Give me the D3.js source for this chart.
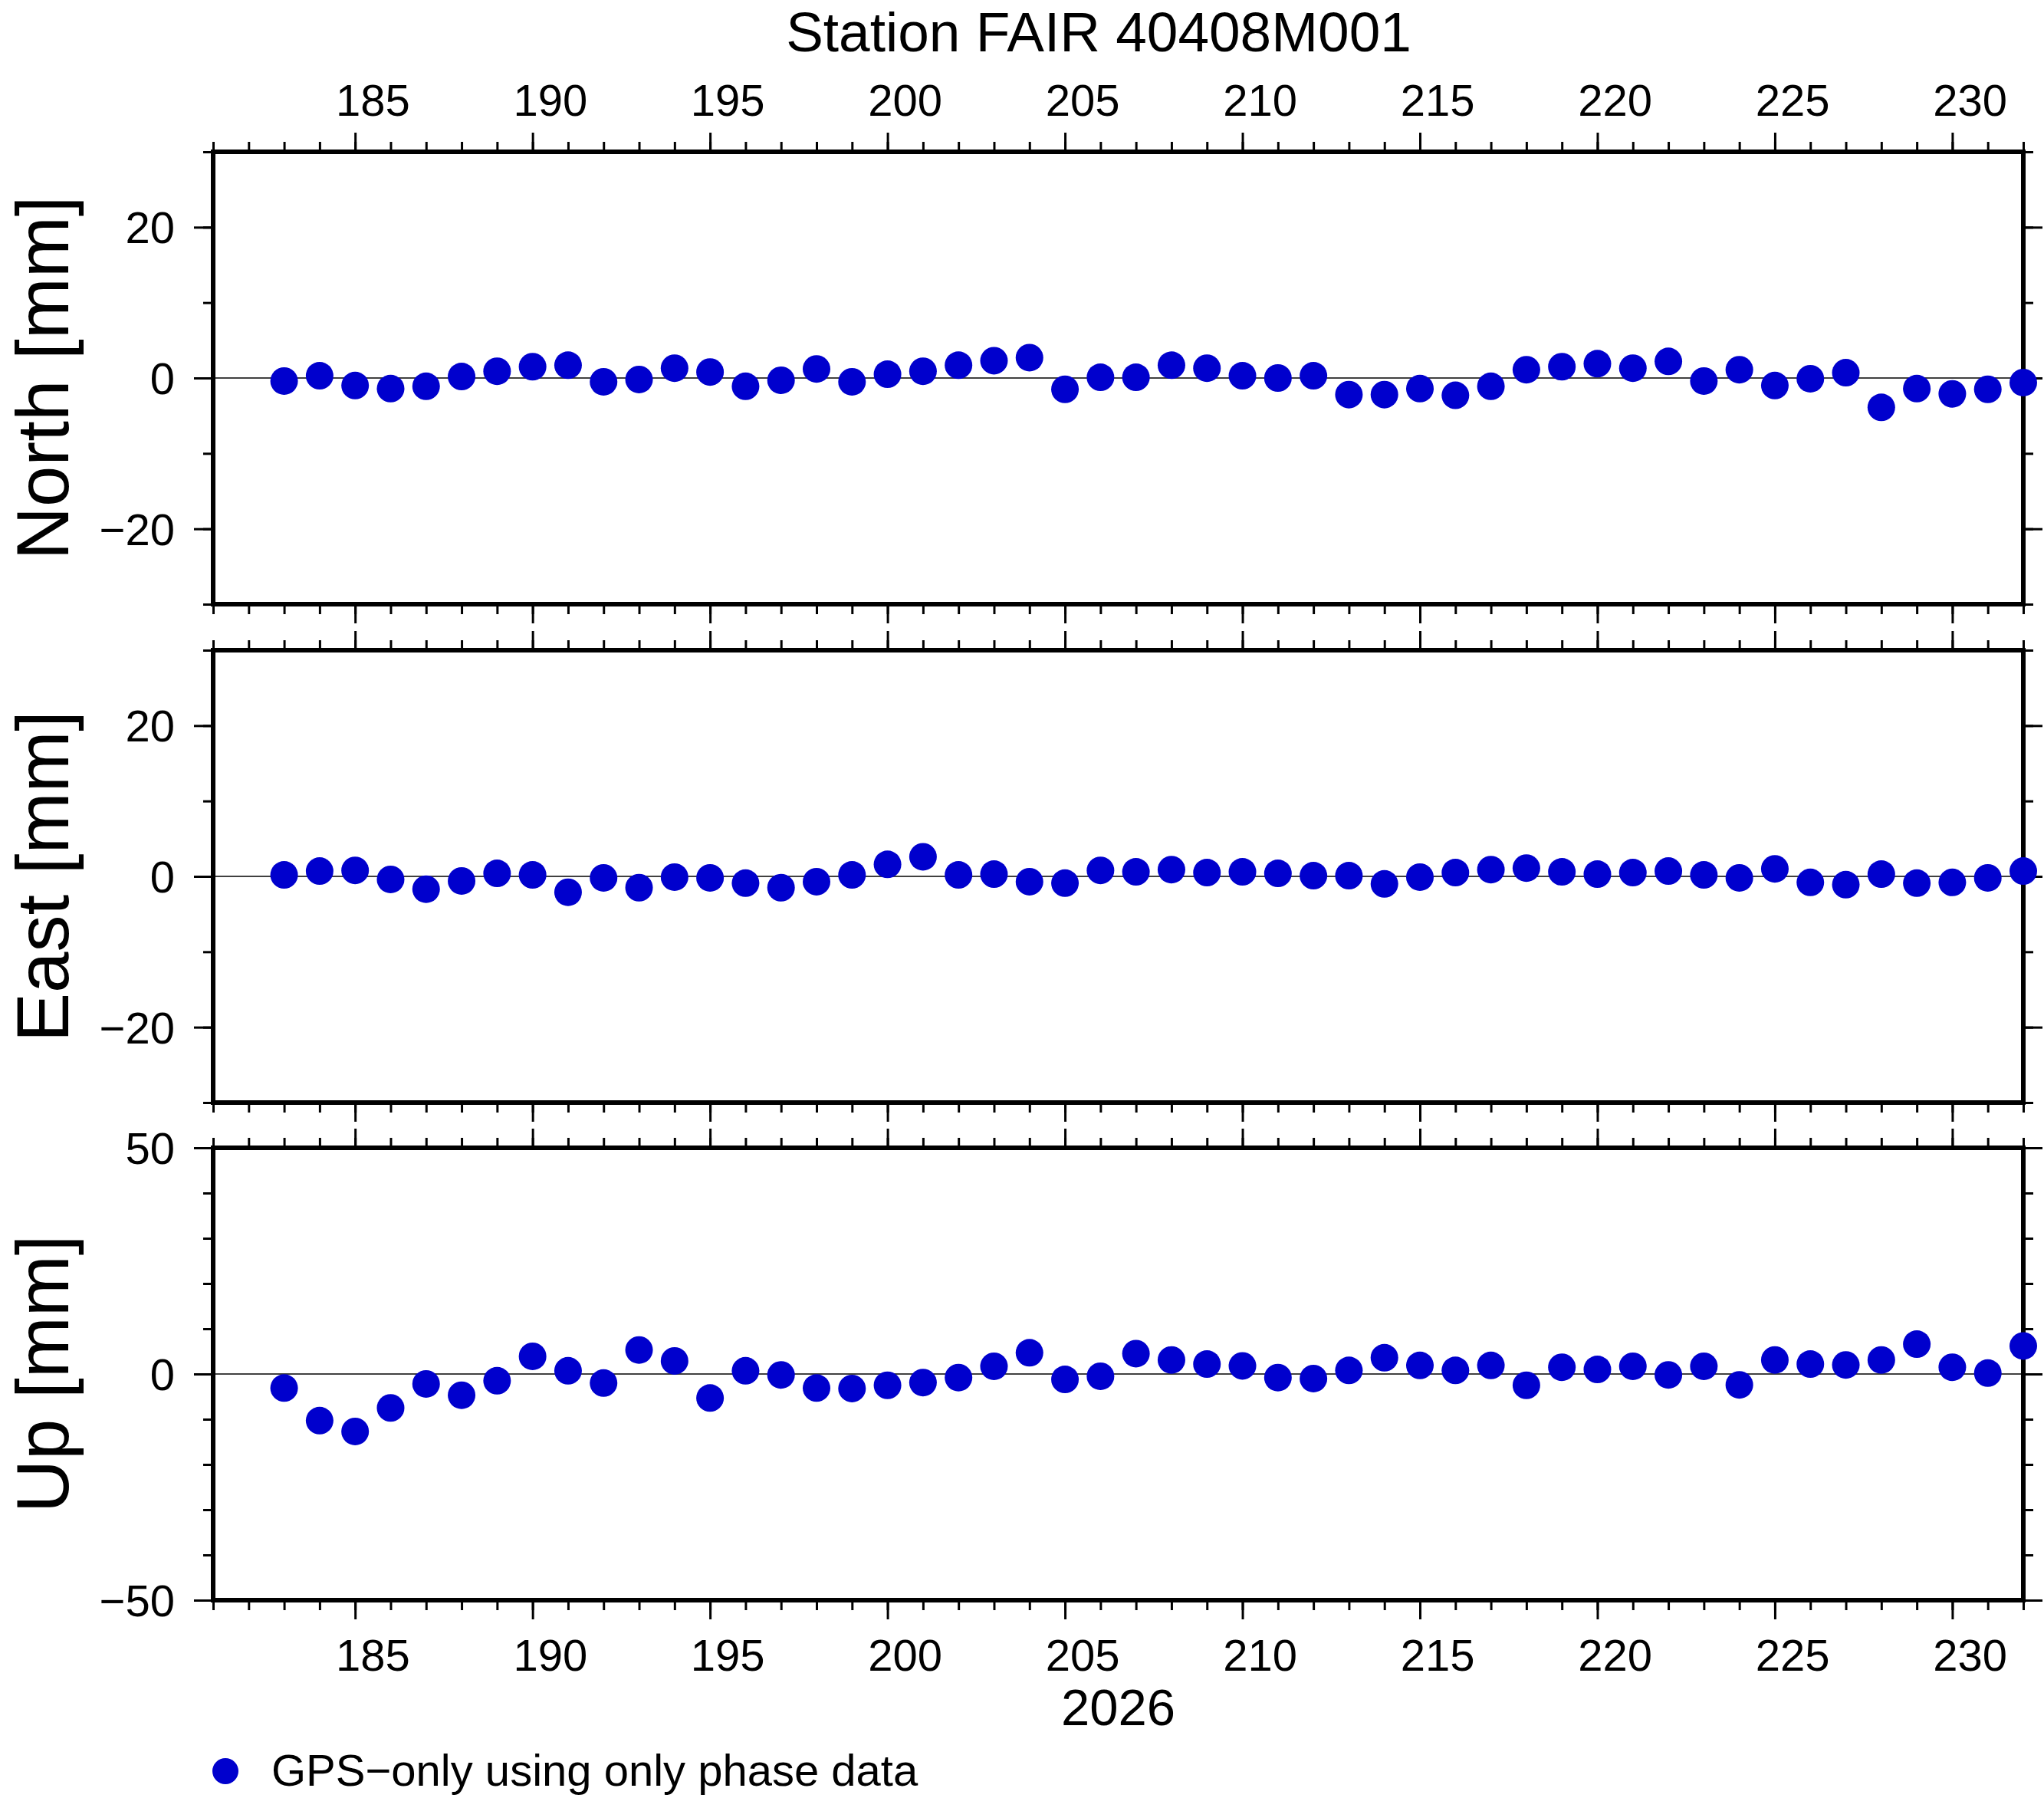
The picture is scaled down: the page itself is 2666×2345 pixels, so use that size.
<!DOCTYPE html>
<html>
<head>
<meta charset="utf-8">
<script src="https://cdn.jsdelivr.net/npm/d3@7"></script>
<style>
  body { margin: 0; background: #fff; }
  text { font-family: "Liberation Sans", Arial, Helvetica, sans-serif; fill: #000; }
</style>
</head>
<body>
<div id="chart"></div>
<script>

// day of year 2026
var days = [183, 184, 185, 186, 187, 188, 189, 190, 191, 192,
            193, 194, 195, 196, 197, 198, 199, 200, 201, 202,
            203, 204, 205, 206, 207, 208, 209, 210, 211, 212,
            213, 214, 215, 216, 217, 218, 219, 220, 221, 222,
            223, 224, 225, 226, 227, 228, 229, 230, 231, 232];

var north = [-0.4, 0.3, -1.0, -1.4, -1.1, 0.2, 0.9, 1.5, 1.7, -0.5,
             -0.2, 1.3, 0.8, -1.1, -0.3, 1.2, -0.5, 0.5, 0.9, 1.7,
             2.3, 2.7, -1.5, 0.1, 0.1, 1.7, 1.3, 0.3, 0.0, 0.3,
             -2.2, -2.2, -1.4, -2.3, -1.1, 1.1, 1.5, 1.9, 1.3, 2.2,
             -0.4, 1.1, -1.0, -0.1, 0.7, -3.9, -1.4, -2.1, -1.5, -0.6];

var east = [0.2, 0.7, 0.8, -0.4, -1.7, -0.6, 0.4, 0.2, -2.1, -0.2,
            -1.5, -0.1, -0.2, -0.9, -1.5, -0.7, 0.2, 1.6, 2.6, 0.2,
            0.3, -0.7, -0.9, 0.8, 0.6, 0.9, 0.5, 0.6, 0.4, 0.1,
            0.1, -1.0, -0.1, 0.5, 0.9, 1.1, 0.6, 0.3, 0.5, 0.7,
            0.2, -0.2, 1.0, -0.8, -1.1, 0.3, -0.9, -0.8, -0.2, 0.7];

var up = [-3.1, -10.3, -12.7, -7.5, -2.2, -4.7, -1.5, 3.9, 0.7, -2.0,
          5.3, 2.9, -5.3, 0.7, -0.2, -3.1, -3.2, -2.5, -1.9, -0.8,
          1.7, 4.7, -1.2, -0.5, 4.5, 3.1, 2.2, 1.8, -0.8, -1.0,
          0.8, 3.6, 1.9, 0.8, 1.9, -2.5, 1.5, 1.0, 1.7, -0.2,
          1.7, -2.4, 3.1, 2.2, 2.0, 3.1, 6.6, 1.5, 0.2, 6.2];

var dayLabels = [185, 190, 195, 200, 205, 210, 215, 220, 225, 230];
var yearLabel = "2026";
var title = "Station FAIR 40408M001";
var legendLabel = "GPS\u2212only using only phase data";

var panels = [
  { name: "North [mm]", values: north, domain: [-30, 30], major: [-20, 0, 20], minor: [-30, -20, -10, 0, 10, 20, 30] },
  { name: "East [mm]",  values: east,  domain: [-30, 30], major: [-20, 0, 20], minor: [-30, -20, -10, 0, 10, 20, 30] },
  { name: "Up [mm]",    values: up,    domain: [-50, 50], major: [-50, 0, 50], minor: [-50, -40, -30, -20, -10, 0, 10, 20, 30, 40, 50] }
];

var W = 2666, H = 2345;
var left = 278, right = 2639;
var panelTops = [198, 848, 1497], panelH = 590;
var dotColor = "rgb(0,0,205)";
var fs = 58;

var svg = d3.select("#chart")
  .append("svg")
    .attr("width", W)
    .attr("height", H);

var x = d3.scaleLinear()
  .domain([181, 232])
  .range([left, right]);

var allDays = d3.range(181, 233);
var majorDays = d3.range(180, 233, 5).filter(function(d) { return d >= 181; });

function fmt(v) { return v < 0 ? "\u2212" + Math.abs(v) : "" + v; }

function styleTicks(g) {
  g.select(".domain").remove();
  g.selectAll("line").attr("stroke", "#000").attr("stroke-width", 3);
}

panels.forEach(function(p, i) {
  var top = panelTops[i], bottom = top + panelH;
  var y = d3.scaleLinear().domain(p.domain).range([bottom, top]);
  var g = svg.append("g");

  // x ticks, top and bottom of each frame
  [["top", top, d3.axisTop], ["bottom", bottom, d3.axisBottom]].forEach(function(s) {
    g.append("g").attr("transform", "translate(0," + s[1] + ")")
      .call(s[2](x).tickValues(allDays).tickSize(13).tickFormat(""))
      .call(styleTicks);
    g.append("g").attr("transform", "translate(0," + s[1] + ")")
      .call(s[2](x).tickValues(majorDays).tickSize(25).tickFormat(""))
      .call(styleTicks);
  });

  // y ticks, left and right
  [[left, d3.axisLeft], [right, d3.axisRight]].forEach(function(s) {
    g.append("g").attr("transform", "translate(" + s[0] + ",0)")
      .call(s[1](y).tickValues(p.minor).tickSize(13).tickFormat(""))
      .call(styleTicks);
    g.append("g").attr("transform", "translate(" + s[0] + ",0)")
      .call(s[1](y).tickValues(p.major).tickSize(25).tickFormat(""))
      .call(styleTicks);
  });

  g.selectAll(".ylab")
    .data(p.major)
    .enter().append("text")
      .attr("x", left - 50)
      .attr("y", function(d) { return y(d) + 21; })
      .attr("text-anchor", "end")
      .attr("font-size", fs)
      .text(fmt);

  // zero line
  g.append("line")
    .attr("x1", left).attr("x2", right)
    .attr("y1", y(0)).attr("y2", y(0))
    .attr("stroke", "#000")
    .attr("stroke-width", 1.5);

  g.append("rect")
    .attr("x", left).attr("y", top)
    .attr("width", right - left).attr("height", panelH)
    .attr("fill", "none")
    .attr("stroke", "#000")
    .attr("stroke-width", 6);

  g.append("text")
    .attr("transform", "translate(89," + (top + panelH / 2) + ") rotate(-90)")
    .attr("text-anchor", "middle")
    .attr("font-size", 96)
    .text(p.name);

  g.selectAll("circle")
    .data(days)
    .enter().append("circle")
      .attr("cx", function(d) { return x(d); })
      .attr("cy", function(d, j) { return y(p.values[j]); })
      .attr("r", 18)
      .attr("fill", dotColor);
});

// day labels sit in the middle of the day
svg.selectAll(".toplab")
  .data(dayLabels)
  .enter().append("text")
    .attr("x", function(d) { return x(d + 0.5); })
    .attr("y", 151)
    .attr("text-anchor", "middle")
    .attr("font-size", fs)
    .text(function(d) { return d; });

svg.selectAll(".botlab")
  .data(dayLabels)
  .enter().append("text")
    .attr("x", function(d) { return x(d + 0.5); })
    .attr("y", 2179)
    .attr("text-anchor", "middle")
    .attr("font-size", fs)
    .text(function(d) { return d; });

svg.append("text")
  .attr("x", (left + right) / 2)
  .attr("y", 2250)
  .attr("text-anchor", "middle")
  .attr("font-size", 67)
  .text(yearLabel);

svg.append("text")
  .attr("x", 1433)
  .attr("y", 67)
  .attr("text-anchor", "middle")
  .attr("font-size", 73)
  .text(title);

// legend
svg.append("circle")
  .attr("cx", 294)
  .attr("cy", 2310)
  .attr("r", 17)
  .attr("fill", dotColor);

svg.append("text")
  .attr("x", 354)
  .attr("y", 2329)
  .attr("font-size", fs)
  .text(legendLabel);

</script>
</body>
</html>
